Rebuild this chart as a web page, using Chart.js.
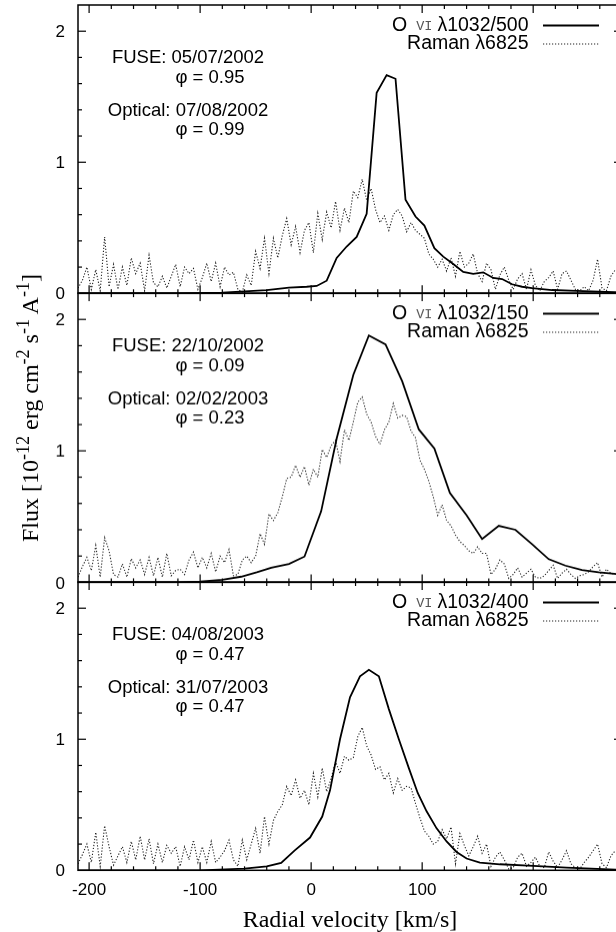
<!DOCTYPE html>
<html>
<head>
<meta charset="utf-8">
<script src="https://cdn.jsdelivr.net/npm/chart.js@4.4.1/dist/chart.umd.min.js"></script>
<style>
  html, body { margin: 0; padding: 0; background: #fff; width: 616px; height: 932px; overflow: hidden; }
  .panel { position: absolute; left: 0; width: 640px; }
  #ytitle {
    position: absolute; left: 30px; top: 408px;
    transform: translate(-50%, -50%) rotate(-90deg);
    font: 24px "Liberation Serif", "Times New Roman", serif;
    white-space: nowrap; line-height: 1; color: #000;
  }
  #ytitle sup { font-size: 0.75em; vertical-align: 0.5em; line-height: 0; }
</style>
</head>
<body>
<div class="panel" style="top:-25px;height:348.3px"><canvas id="p1"></canvas></div>
<div class="panel" style="top:263.3px;height:348.4px"><canvas id="p2"></canvas></div>
<div class="panel" style="top:551.7px;height:380.3px"><canvas id="p3"></canvas></div>
<div id="ytitle">Flux [10<sup>-12</sup> erg cm<sup>-2</sup> s<sup>-1</sup> A<sup>-1</sup>]</div>
<script>
// axis ranges and labelled ticks
const VMIN = -210, VMAX = 280, FMAX = 2.2;
const xTickVals = [-200, -100, 0, 100, 200];
const yTickVals = [0, 1, 2];

// Raman spectra are sampled on a regular velocity grid
const ramanV0 = -210, ramanStep = 4;

// panel 1 : FUSE 05/07/2002, optical 07/08/2002
const oviV1 = [-210, -120, -80, -40, -20, -4, 5, 14, 23, 32, 41, 50, 59, 68, 76, 85, 94, 102, 111, 119, 128, 137, 146, 155, 164, 172, 181, 190, 199, 217, 239, 280];
const oviF1 = [0, 0, 0.005, 0.025, 0.043, 0.05, 0.056, 0.096, 0.27, 0.357, 0.43, 0.607, 1.53, 1.665, 1.637, 0.714, 0.586, 0.517, 0.344, 0.28, 0.224, 0.163, 0.148, 0.16, 0.117, 0.109, 0.069, 0.05, 0.04, 0.025, 0.018, 0.006];
const ramanF1 = [
  0.04, 0.10, 0.20, 0.03, 0.18, 0.02, 0.43, 0.05, 0.22, 0.03,
  0.20, 0.06, 0.27, 0.15, 0.23, 0.02, 0.29, 0.08, 0.05, 0.13,
  0.04, 0.13, 0.22, 0.05, 0.20, 0.15, 0.19, 0.03, 0.12, 0.23,
  0.09, 0.23, 0.05, 0.20, 0.14, 0.16, 0.03, 0.01, 0.14, 0.06,
  0.32, 0.19, 0.42, 0.15, 0.42, 0.27, 0.44, 0.57, 0.37, 0.51,
  0.31, 0.48, 0.54, 0.31, 0.61, 0.41, 0.62, 0.50, 0.70, 0.48,
  0.65, 0.54, 0.78, 0.73, 0.87, 0.71, 0.80, 0.64, 0.54, 0.59,
  0.48, 0.60, 0.64, 0.59, 0.47, 0.54, 0.48, 0.45, 0.42, 0.30,
  0.26, 0.20, 0.26, 0.17, 0.27, 0.13, 0.32, 0.20, 0.23, 0.30,
  0.15, 0.09, 0.23, 0.18, 0.03, 0.14, 0.20, 0.10, 0.03, 0.11,
  0.15, 0.03, 0.18, 0.06, 0.02, 0.09, 0.12, 0.17, 0.03, 0.15,
  0.17, 0.10, 0.03, 0.02, 0.05, 0.02, 0.10, 0.26, 0.04, 0.02,
  0.13, 0.18
];

// panel 2 : FUSE 22/10/2002, optical 02/02/2003
const oviV2 = [-210, -120, -100, -80, -63, -49, -36, -20, -6, 9, 23, 38, 52, 67, 82, 97, 111, 125, 140, 154, 169, 184, 199, 214, 229, 244, 259, 280];
const oviF2 = [0, 0, 0.005, 0.02, 0.043, 0.076, 0.11, 0.14, 0.196, 0.54, 1.094, 1.578, 1.878, 1.81, 1.53, 1.163, 1.018, 0.68, 0.51, 0.33, 0.43, 0.40, 0.29, 0.176, 0.127, 0.094, 0.076, 0.06];
const ramanF2 = [
  0.04, 0.12, 0.19, 0.09, 0.28, 0.04, 0.34, 0.24, 0.06, 0.04,
  0.14, 0.04, 0.18, 0.11, 0.17, 0.06, 0.19, 0.05, 0.19, 0.04,
  0.22, 0.05, 0.09, 0.10, 0.06, 0.17, 0.23, 0.11, 0.19, 0.11,
  0.22, 0.08, 0.20, 0.15, 0.25, 0.05, 0.06, 0.17, 0.20, 0.15,
  0.20, 0.37, 0.29, 0.52, 0.47, 0.53, 0.65, 0.79, 0.80, 0.89,
  0.80, 0.88, 0.74, 0.86, 0.80, 1.01, 0.95, 1.04, 1.08, 0.92,
  1.16, 1.08, 1.22, 1.37, 1.41, 1.28, 1.22, 1.11, 1.05, 1.16,
  1.22, 1.36, 1.25, 1.27, 1.26, 1.15, 1.10, 0.93, 0.86, 0.77,
  0.65, 0.51, 0.59, 0.47, 0.43, 0.36, 0.31, 0.28, 0.24, 0.22,
  0.27, 0.22, 0.22, 0.06, 0.10, 0.17, 0.14, 0.03, 0.06, 0.11,
  0.04, 0.07, 0.10, 0.04, 0.03, 0.05, 0.09, 0.13, 0.03, 0.07,
  0.10, 0.06, 0.03, 0.05, 0.06, 0.08, 0.12, 0.15, 0.04, 0.10,
  0.07, 0.06
];

// panel 3 : FUSE 04/08/2003, optical 31/07/2003
const oviV3 = [-210, -100, -60, -40, -27, -15, -1, 10, 17, 26, 35, 44, 52, 61, 70, 79, 88, 96, 104, 113, 122, 131, 140, 152, 170, 200, 230, 280];
const oviF3 = [0, 0, 0.013, 0.03, 0.056, 0.15, 0.25, 0.41, 0.61, 1.0, 1.32, 1.48, 1.53, 1.48, 1.23, 1.0, 0.78, 0.59, 0.45, 0.32, 0.22, 0.14, 0.09, 0.059, 0.046, 0.033, 0.02, 0.004];
const ramanF3 = [
  0.05, 0.12, 0.20, 0.06, 0.29, 0.03, 0.34, 0.18, 0.04, 0.11,
  0.18, 0.06, 0.22, 0.08, 0.26, 0.08, 0.24, 0.05, 0.20, 0.06,
  0.19, 0.13, 0.18, 0.03, 0.18, 0.08, 0.23, 0.06, 0.18, 0.06,
  0.22, 0.06, 0.10, 0.15, 0.23, 0.08, 0.03, 0.23, 0.08, 0.20,
  0.32, 0.13, 0.41, 0.20, 0.38, 0.45, 0.50, 0.64, 0.57, 0.69,
  0.55, 0.61, 0.50, 0.74, 0.56, 0.78, 0.60, 0.70, 0.83, 0.74,
  0.87, 0.84, 0.86, 1.02, 1.09, 0.95, 0.88, 0.77, 0.79, 0.69,
  0.74, 0.59, 0.70, 0.61, 0.64, 0.63, 0.51, 0.40, 0.30, 0.26,
  0.20, 0.22, 0.31, 0.24, 0.33, 0.05, 0.28, 0.19, 0.11, 0.18,
  0.26, 0.13, 0.20, 0.03, 0.10, 0.14, 0.08, 0.01, 0.02, 0.10,
  0.13, 0.03, 0.06, 0.10, 0.03, 0.02, 0.14, 0.07, 0.02, 0.08,
  0.15, 0.05, 0.02, 0.01, 0.06, 0.10, 0.15, 0.20, 0.05, 0.02,
  0.11, 0.15
];

const ions = ['λ1032/500', 'λ1032/150', 'λ1032/400'];
const notes1 = ['FUSE: 05/07/2002', 'φ = 0.95', 'Optical: 07/08/2002', 'φ = 0.99'];
const notes2 = ['FUSE: 22/10/2002', 'φ = 0.09', 'Optical: 02/02/2003', 'φ = 0.23'];
const notes3 = ['FUSE: 04/08/2003', 'φ = 0.47', 'Optical: 31/07/2003', 'φ = 0.47'];

const SANS = '"Liberation Sans", Arial, Helvetica, sans-serif';

function line(ctx, x1, y1, x2, y2) {
  ctx.beginPath();
  ctx.moveTo(x1, y1);
  ctx.lineTo(x2, y2);
  ctx.stroke();
}

// gnuplot-like frame with inward ticks on all four sides
const frameTicks = {
  id: 'frameTicks',
  afterDatasetsDraw(chart) {
    const {ctx, chartArea: a, scales: {x, y}} = chart;
    ctx.save();
    ctx.strokeStyle = '#000';
    ctx.lineWidth = 1.2;
    for (let v = -200; v < VMAX; v += 20) {
      const px = x.getPixelForValue(v);
      const len = v % 100 === 0 ? 8 : 4;
      line(ctx, px, a.bottom, px, a.bottom - len);
      line(ctx, px, a.top, px, a.top + len);
    }
    for (let k = 1; k < 11; k++) {
      const py = y.getPixelForValue(k * 0.2);
      const len = k % 5 === 0 ? 8 : 4;
      line(ctx, a.left, py, a.left + len, py);
      line(ctx, a.right, py, a.right - len, py);
    }
    ctx.lineWidth = 1.5;
    ctx.strokeRect(a.left, a.top, a.right - a.left, a.bottom - a.top);
    ctx.restore();
  }
};

// legend and date / phase notes
const panelText = {
  id: 'panelText',
  afterDraw(chart, args, o) {
    const ctx = chart.ctx;
    const top = chart.chartArea.top;
    ctx.save();
    ctx.fillStyle = '#000';
    ctx.textBaseline = 'middle';
    ctx.font = '18.5px ' + SANS;
    ctx.textAlign = 'center';
    ctx.fillText(o.notes[0], 188, top + 53);
    ctx.fillText(o.notes[1], 210, top + 72.5);
    ctx.fillText(o.notes[2], 188, top + 105.5);
    ctx.fillText(o.notes[3], 210, top + 124.5);

    const legendFont = '19.5px ' + SANS;
    const right = 528.5, y1 = top + 20.5, y2 = top + 39;
    ctx.font = legendFont;
    ctx.textAlign = 'right';
    ctx.fillText(o.ion, right, y1);
    let xr = right - ctx.measureText(o.ion).width - 5;
    ctx.font = '13.5px "Liberation Mono", "DejaVu Sans Mono", monospace';
    ctx.fillStyle = '#555';
    ctx.fillText('VI', xr, y1 + 1);
    xr -= ctx.measureText('VI').width + 9;
    ctx.font = legendFont;
    ctx.fillStyle = '#000';
    ctx.fillText('O', xr, y1);
    ctx.fillText('Raman λ6825', right, y2);

    ctx.strokeStyle = '#000';
    ctx.lineWidth = 1.8;
    line(ctx, 543, y1, 599, y1);
    ctx.strokeStyle = '#222';
    ctx.lineWidth = 1.1;
    ctx.setLineDash([1.2, 1.8]);
    line(ctx, 543, y2, 599, y2);
    ctx.restore();
  }
};

function makePanel(id, oviV, oviF, ramanF, ion, notes, bottomAxis) {
  const ovi = oviV.map((v, i) => ({x: v, y: oviF[i]}));
  const raman = ramanF.map((f, i) => ({x: ramanV0 + i * ramanStep, y: f}));
  return new Chart(document.getElementById(id), {
    type: 'line',
    data: {
      datasets: [
        {label: 'O VI', data: ovi, borderColor: '#000', borderWidth: 1.8, pointRadius: 0, tension: 0, fill: false},
        {label: 'Raman', data: raman, borderColor: '#222', borderWidth: 1.1, borderDash: [1.2, 1.8], pointRadius: 0, tension: 0, fill: false}
      ]
    },
    options: {
      responsive: true,
      maintainAspectRatio: false,
      animation: false,
      events: [],
      layout: {autoPadding: false, padding: {left: 0, right: 18, top: 30, bottom: bottomAxis ? 0 : 30}},
      plugins: {
        legend: {display: false},
        tooltip: {enabled: false},
        panelText: {ion: ion, notes: notes}
      },
      scales: {
        x: {
          type: 'linear',
          min: VMIN,
          max: VMAX,
          grid: {display: false, drawTicks: false},
          border: {display: false},
          afterBuildTicks(s) { s.ticks = xTickVals.map(v => ({value: v})); },
          ticks: {
            display: bottomAxis,
            autoSkip: false,
            maxRotation: 0,
            padding: 10,
            color: '#000',
            font: {family: SANS, size: 17}
          },
          title: {
            display: bottomAxis,
            text: 'Radial velocity [km/s]',
            color: '#000',
            padding: 0,
            font: {family: '"Liberation Serif", "Times New Roman", serif', size: 24, lineHeight: 1}
          },
          afterFit(s) { s.height = bottomAxis ? 62 : 0; }
        },
        y: {
          min: 0,
          max: FMAX,
          grid: {display: false, drawTicks: false},
          border: {display: false},
          afterBuildTicks(s) { s.ticks = yTickVals.map(v => ({value: v})); },
          ticks: {
            padding: 13,
            labelOffset: 1.5,
            color: '#000',
            font: {family: SANS, size: 17}
          },
          afterFit(s) { s.width = 78; }
        }
      }
    },
    plugins: [frameTicks, panelText]
  });
}

makePanel('p1', oviV1, oviF1, ramanF1, ions[0], notes1, false);
makePanel('p2', oviV2, oviF2, ramanF2, ions[1], notes2, false);
makePanel('p3', oviV3, oviF3, ramanF3, ions[2], notes3, true);
</script>
</body>
</html>
